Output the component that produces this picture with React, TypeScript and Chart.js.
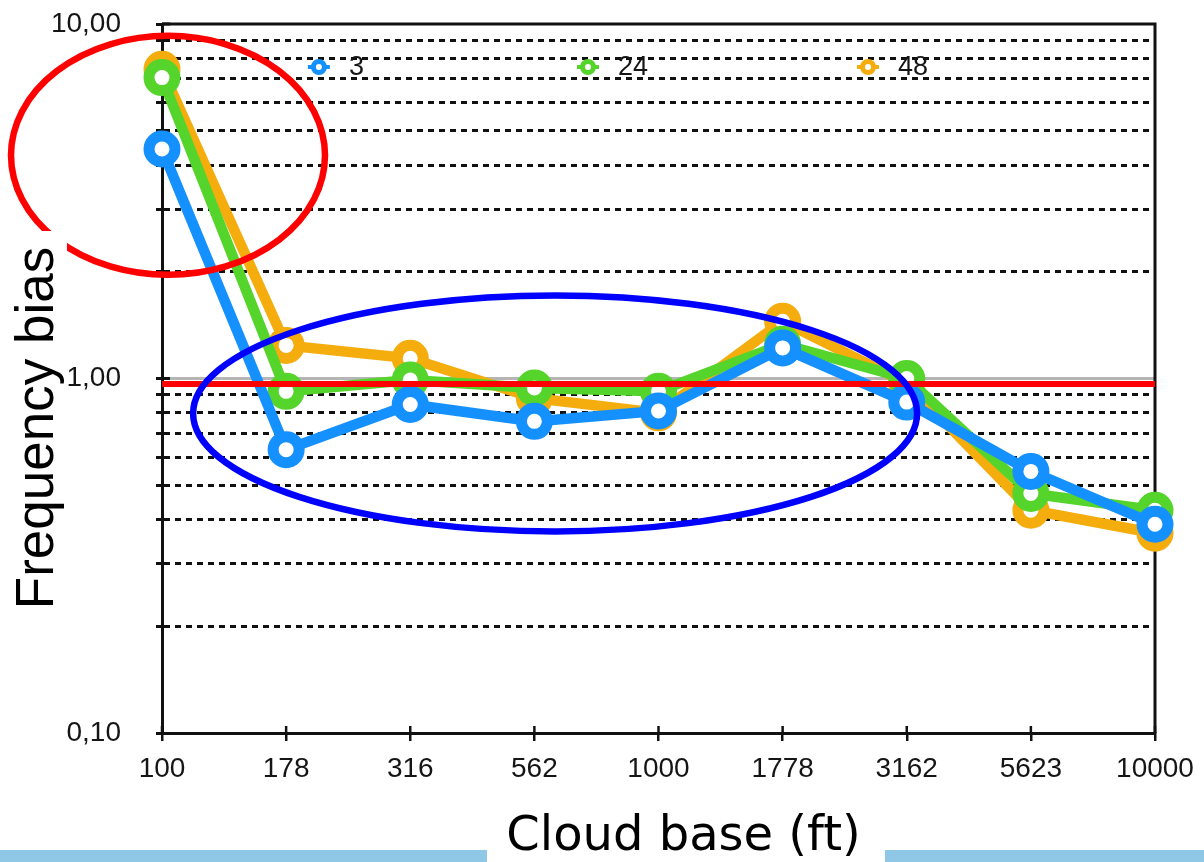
import React, { useEffect, useRef } from 'react';
import { Chart, registerables } from 'chart.js';

Chart.register(...registerables);

// ---- data ----
const cloudBase = ['100', '178', '316', '562', '1000', '1778', '3162', '5623', '10000'];
const seriesLabels = ['3', '24', '48'];
const bias3 = [4.44, 0.63, 0.845, 0.757, 0.81, 1.22, 0.858, 0.547, 0.388];
const bias24 = [7.06, 0.92, 0.99, 0.94, 0.92, 1.25, 1.0, 0.474, 0.425];
const bias48 = [7.45, 1.24, 1.14, 0.88, 0.8, 1.45, 0.97, 0.425, 0.366];
const referenceLine = [0.965, 0.965, 0.965, 0.965, 0.965, 0.965, 0.965, 0.965, 0.965];
const yTickValues = [0.1, 0.2, 0.3, 0.4, 0.5, 0.6, 0.7, 0.8, 0.9, 1, 2, 3, 4, 5, 6, 7, 8, 9, 10];
const yLabelValues = [0.1, 1, 10];

// ---- styles ----
const seriesColors = ['#1590ff', '#55d42c', '#f5ad0e'];
const INK = '#111111';
const TEXT = '#151515';

const fmt = (v: number) => v.toFixed(2).replace('.', ',');

const decorPlugin = {
  id: 'decor',
  beforeDatasetsDraw(chart: any) {
    const { ctx, chartArea: a, scales } = chart;
    const ys = scales.y;
    const xs = scales.x;
    ctx.save();
    // grey gridline at 1,00
    const y1 = ys.getPixelForValue(1);
    ctx.strokeStyle = '#b5b5b5';
    ctx.lineWidth = 3;
    ctx.beginPath();
    ctx.moveTo(a.left, y1);
    ctx.lineTo(a.right, y1);
    ctx.stroke();
    // frame top / right
    ctx.strokeStyle = INK;
    ctx.lineWidth = 3;
    ctx.beginPath();
    ctx.moveTo(a.left, a.top);
    ctx.lineTo(a.right, a.top);
    ctx.lineTo(a.right, a.bottom);
    ctx.stroke();
    // x tick marks crossing the axis upward
    ctx.lineWidth = 2.5;
    for (let i = 0; i < cloudBase.length; i++) {
      const px = xs.getPixelForValue(i);
      ctx.beginPath();
      ctx.moveTo(px, a.bottom);
      ctx.lineTo(px, a.bottom - 7);
      ctx.stroke();
    }
    // y major ticks crossing slightly inward
    ctx.lineWidth = 3;
    for (const v of [1, 10]) {
      const py = ys.getPixelForValue(v);
      ctx.beginPath();
      ctx.moveTo(a.left, py);
      ctx.lineTo(a.left + 8, py);
      ctx.stroke();
    }
    ctx.restore();
  },
  afterDraw(chart: any) {
    const { ctx, chartArea: a, scales } = chart;
    const xs = scales.x;
    const ys = scales.y;
    ctx.save();

    // legend inside plot
    const legendFrac = [0.158, 0.429, 0.711];
    const ly = a.top + 43;
    ctx.font = '27px "Liberation Sans", Arial, sans-serif';
    ctx.textBaseline = 'middle';
    ctx.textAlign = 'left';
    seriesLabels.forEach((lab, i) => {
      const cx = a.left + legendFrac[i] * (a.right - a.left);
      ctx.strokeStyle = seriesColors[i];
      ctx.lineWidth = 4;
      ctx.beginPath();
      ctx.moveTo(cx - 11, ly);
      ctx.lineTo(cx + 11, ly);
      ctx.stroke();
      ctx.beginPath();
      ctx.arc(cx, ly, 5.5, 0, Math.PI * 2);
      ctx.fillStyle = '#ffffff';
      ctx.fill();
      ctx.lineWidth = 5;
      ctx.stroke();
      ctx.fillStyle = TEXT;
      ctx.fillText(lab, cx + 30, ly + 1);
    });

    // red ellipse annotation
    ctx.strokeStyle = '#ff0000';
    ctx.lineWidth = 6.5;
    ctx.beginPath();
    ctx.ellipse(xs.getPixelForValue(0) + 6, ys.getPixelForValue(4.26), 157, 119.5, 0, 0, Math.PI * 2);
    ctx.stroke();

    // blue ellipse annotation
    ctx.strokeStyle = '#0000ff';
    ctx.lineWidth = 6.5;
    ctx.beginPath();
    const bx = xs.getPixelForValue(3) + 0.167 * (xs.getPixelForValue(4) - xs.getPixelForValue(3));
    ctx.ellipse(bx, ys.getPixelForValue(0.797), 362, 118, 0, 0, Math.PI * 2);
    ctx.stroke();

    // y title box + text
    ctx.fillStyle = '#ffffff';
    ctx.fillRect(0, 231, 67, 400);
    ctx.fillStyle = '#000000';
    ctx.font = '53px "Liberation Sans", Arial, sans-serif';
    ctx.textAlign = 'center';
    ctx.textBaseline = 'alphabetic';
    ctx.translate(53, 428);
    ctx.rotate(-Math.PI / 2);
    ctx.fillText('Frequency bias', 0, 0);
    ctx.setTransform(1, 0, 0, 1, 0, 0);

    // bottom decorative bar with title gap
    ctx.fillStyle = '#8fc8e6';
    ctx.fillRect(0, 850, 487, 12);
    ctx.fillRect(885, 850, 319, 12);
    ctx.fillStyle = '#000000';
    ctx.font = '48px "DejaVu Sans", Verdana, sans-serif';
    ctx.textAlign = 'center';
    ctx.textBaseline = 'alphabetic';
    ctx.fillText('Cloud base (ft)', 683.5, 850);

    ctx.restore();
  },
};

export default function App() {
  const ref = useRef<HTMLCanvasElement | null>(null);

  useEffect(() => {
    if (!ref.current) return;
    const seriesData = [bias3, bias24, bias48];
    const chart = new Chart(ref.current, {
      type: 'line',
      data: {
        labels: cloudBase,
        datasets: [
          {
            label: 'ref',
            data: referenceLine,
            borderColor: '#ff0000',
            borderWidth: 6,
            pointRadius: 0,
            order: -1,
            clip: false as any,
          },
          ...seriesLabels.map((lab, i) => ({
            label: lab,
            data: seriesData[i],
            borderColor: seriesColors[i],
            borderWidth: 10.5,
            pointRadius: 13,
            pointBorderWidth: 11,
            pointBackgroundColor: '#ffffff',
            pointBorderColor: seriesColors[i],
            tension: 0,
            clip: false as any,
          })),
        ],
      },
      options: {
        responsive: false,
        animation: false,
        devicePixelRatio: 1,
        layout: { padding: { top: 23, right: 49, left: 0, bottom: 0 } },
        plugins: {
          legend: { display: false },
          tooltip: { enabled: false },
        },
        scales: {
          x: {
            type: 'category',
            offset: false,
            afterFit: (s: any) => {
              s.height = 129;
              s.paddingLeft = 0;
              s.paddingRight = 0;
            },
            grid: {
              drawOnChartArea: false,
              drawTicks: true,
              tickLength: 8,
              color: INK,
              tickColor: INK,
              tickWidth: 2.5,
              lineWidth: 2.5,
            },
            border: { color: INK, width: 3 },
            ticks: {
              color: TEXT,
              padding: 11,
              maxRotation: 0,
              autoSkip: false,
              font: { family: '"Liberation Sans", Arial, sans-serif', size: 28 },
            },
          },
          y: {
            type: 'logarithmic',
            min: 0.1,
            max: 10,
            afterFit: (s: any) => {
              s.width = 162;
              s.paddingTop = 0;
              s.paddingBottom = 0;
            },
            afterBuildTicks: (s: any) => {
              s.ticks = yTickValues.map((v) => ({ value: v }));
            },
            grid: {
              color: (c: any) => {
                const v = c.tick ? c.tick.value : 0;
                return v === 0.1 || v === 1 || v === 10 ? 'rgba(0,0,0,0)' : INK;
              },
              lineWidth: 3,
              tickColor: INK,
              tickLength: 6,
              tickWidth: 3,
              drawTicks: true,
            },
            border: { color: INK, width: 3, dash: [6, 5] },
            ticks: {
              color: TEXT,
              padding: 35,
              autoSkip: false,
              font: { family: '"Liberation Sans", Arial, sans-serif', size: 28 },
              callback: (v: any) => (yLabelValues.includes(Number(v)) ? fmt(Number(v)) : ''),
            },
          },
        },
      },
      plugins: [decorPlugin],
    });
    return () => chart.destroy();
  }, []);

  return (
    <div style={{ position: 'fixed', left: 0, top: 0, width: 1204, height: 862, background: '#ffffff' }}>
      <canvas ref={ref} width={1204} height={862} style={{ width: 1204, height: 862, display: 'block' }} />
    </div>
  );
}
